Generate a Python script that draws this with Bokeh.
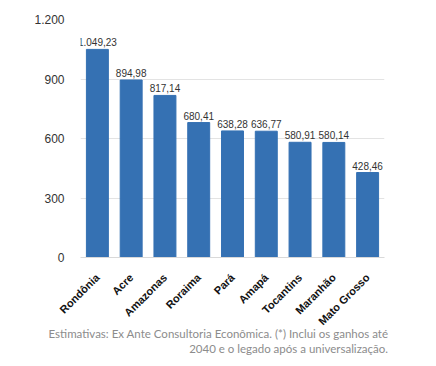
from bokeh.plotting import figure
from bokeh.models import ColumnDataSource, LabelSet, FixedTicker, Range1d, FactorRange, Div
from bokeh.layouts import column
from bokeh.core.properties import value
from bokeh.embed import file_html
from bokeh.resources import INLINE
from math import pi

states = ["Rondônia", "Acre", "Amazonas", "Roraima", "Pará", "Amapá",
          "Tocantins", "Maranhão", "Mato Grosso"]
values = [1049.23, 894.98, 817.14, 680.41, 638.28, 636.77, 580.91, 580.14, 428.46]
y_ticks = [0, 300, 600, 900, 1200]
y_tick_labels = ["0", "300", "600", "900", "1.200"]
note_lines = ["Estimativas: Ex Ante Consultoria Econômica. (*) Inclui os ganhos até",
              "2040 e o legado após a universalização."]


def br(v):
    s = f"{v:,.2f}"
    return s.replace(",", "X").replace(".", ",").replace("X", ".")


src = ColumnDataSource(dict(x=states, top=values, lab=[br(v) for v in values]))

p = figure(width=428, height=334, x_range=FactorRange(*states, range_padding=0),
           y_range=Range1d(0, 1200), output_backend="svg", toolbar_location=None,
           min_border_left=80, min_border_right=44, min_border_top=19, min_border_bottom=77)
p.outline_line_color = None
p.background_fill_color = "white"
p.border_fill_color = "white"

p.vbar(x="x", top="top", width=0.65, source=src, color="#3571B3")

p.add_layout(LabelSet(x="x", y="top", text="lab", source=src, text_align="center",
                      text_baseline="bottom", y_offset=3, text_font=value("Liberation Sans"),
                      text_font_size="10px", text_color="#333333"))

p.yaxis.ticker = FixedTicker(ticks=y_ticks)
p.yaxis.major_label_overrides = {t: l for t, l in zip(y_ticks, y_tick_labels)}
p.yaxis.axis_line_color = None
p.yaxis.major_tick_line_color = None
p.yaxis.minor_tick_line_color = None
p.yaxis.major_label_text_font = "Liberation Sans"
p.yaxis.major_label_text_font_size = "12px"
p.yaxis.major_label_text_color = "#333333"
p.yaxis.major_label_standoff = 10

p.xaxis.axis_line_color = "#d9d9d9"
p.xaxis.major_tick_line_color = None
p.xaxis.major_label_orientation = pi / 4
p.xaxis.major_label_text_font = "Liberation Sans"
p.xaxis.major_label_text_font_style = "bold"
p.xaxis.major_label_text_font_size = "11px"
p.xaxis.major_label_text_color = "#111111"
p.xaxis.major_label_standoff = 12

p.xgrid.grid_line_color = None
p.ygrid.grid_line_color = "#e3e3e3"

note = Div(
    text="<br>".join(note_lines),
    width=428,
    styles={"text-align": "right", "font-family": "Lato", "font-size": "11.5px",
            "color": "#8c8c8c", "line-height": "14.5px", "position": "relative",
            "top": "-12px", "padding-right": "45px", "box-sizing": "border-box",
            "width": "428px"},
)

layout = column(p, note, spacing=0)
open("out.html", "w").write(file_html(layout, INLINE))
